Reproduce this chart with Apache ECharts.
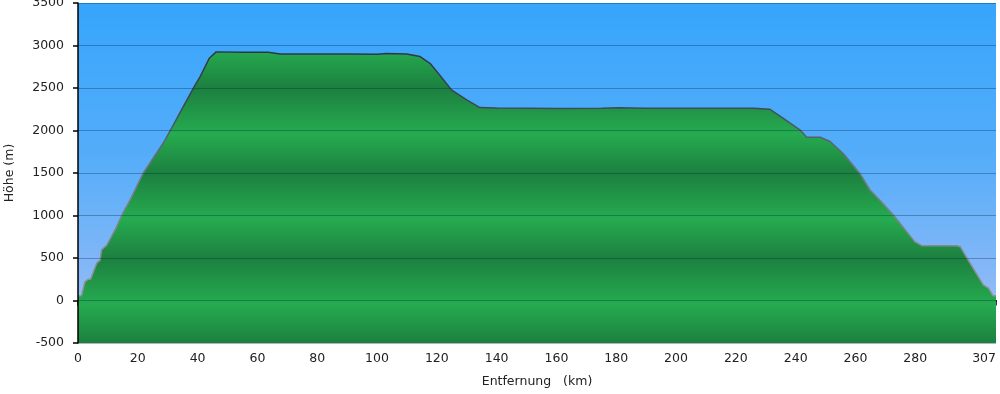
<!DOCTYPE html>
<html>
<head>
<meta charset="utf-8">
<script src="https://cdn.jsdelivr.net/npm/echarts@6/dist/echarts.min.js"></script>
<style>
html,body{margin:0;padding:0;background:#fff;}
#c{width:1000px;height:394px;}
</style>
</head>
<body>
<div id="c"></div>
<script>
// Distance along route (km)
const distanceKm = [0, 1.2, 2.3, 3.4, 4.2, 6.3, 7.4, 7.9, 9.6, 12.4, 15, 17.4, 21.8, 28.5, 31.9, 35.8, 39.1, 40.8, 43.9, 46.2,
  55, 63.6, 67.6, 90, 100, 103, 109.9, 114.4, 117.7, 121, 125, 130, 134.4, 140, 160, 175, 181, 190, 210, 226,
  231.4, 236, 241.5, 243.7, 248.2, 251.5, 255.9, 261.5, 264.9, 268.2, 272.7, 279.9, 282.2, 293.9, 295, 298.3,
  302.8, 304.5, 306, 307];
// Elevation (m)
const elevationM = [55, 60, 220, 250, 250, 440, 475, 595, 650, 830, 1030, 1180, 1500, 1850, 2065, 2320, 2530, 2630, 2850, 2925,
  2922, 2920, 2900, 2900, 2898, 2905, 2900, 2870, 2790, 2650, 2475, 2360, 2270, 2265, 2260, 2262, 2268, 2262, 2262, 2262,
  2250, 2140, 2005, 1920, 1920, 1870, 1730, 1495, 1300, 1180, 1005, 690, 645, 645, 633, 440,
  180, 145, 55, 55];
const xTickValues = [0, 20, 40, 60, 80, 100, 120, 140, 160, 180, 200, 220, 240, 260, 280, 307];
const yMin = -500, yMax = 3500, yStep = 500;

const seriesData = distanceKm.map((d, i) => [d, elevationM[i]]);

const G = echarts.graphic.LinearGradient;
const font = 'DejaVu Sans';
const TOP = 3, BOTTOM = 343;

const chart = echarts.init(document.getElementById('c'), null, {renderer: 'canvas'});
chart.setOption({
  animation: false,
  backgroundColor: '#ffffff',
  grid: {
    left: 78, right: 4, top: TOP, bottom: 394 - BOTTOM,
    outerBoundsMode: 'none',
    containLabel: false,
    show: true, borderWidth: 0,
    backgroundColor: new G(0, 0, 0, 1, [
      {offset: 0, color: '#36a5fc'},
      {offset: 0.45, color: '#55adf9'},
      {offset: 0.8, color: '#86b8f7'},
      {offset: 1, color: '#abc9f8'}
    ])
  },
  xAxis: {
    type: 'value', min: 0, max: 307,
    name: 'Entfernung   (km)', nameLocation: 'middle', nameGap: 32,
    nameTextStyle: {fontFamily: font, fontSize: 12.5, color: '#222'},
    axisLine: {show: true, lineStyle: {color: '#000', width: 2}},
    axisTick: {show: true, length: 5, lineStyle: {color: '#000', width: 1.5}, customValues: xTickValues},
    axisLabel: {fontFamily: font, fontSize: 12.5, color: '#222', margin: 9, customValues: xTickValues,
      alignMaxLabel: 'right', formatter: v => String(v)},
    splitLine: {show: false}
  },
  yAxis: {
    type: 'value', min: yMin, max: yMax, interval: yStep, z: 5,
    name: 'Höhe (m)', nameLocation: 'middle', nameGap: 62, nameRotate: 90,
    nameTextStyle: {fontFamily: font, fontSize: 12.5, color: '#222'},
    axisLine: {show: true, lineStyle: {color: '#000', width: 1.5}},
    axisTick: {show: true, length: 5, lineStyle: {color: '#000', width: 1.5}},
    axisLabel: {fontFamily: font, fontSize: 12.5, color: '#222', margin: 14, formatter: v => String(v)},
    splitLine: {show: true, lineStyle: {color: 'rgba(0,30,70,0.32)', width: 1}}
  },
  series: [{
    type: 'line',
    data: seriesData,
    symbol: 'none',
    smooth: false,
    z: 2,
    lineStyle: {
      width: 1.5,
      color: new G(0, TOP, 0, BOTTOM, [
        {offset: 0, color: '#1e2a38'},
        {offset: 0.3, color: '#3c4756'},
        {offset: 0.5, color: '#737b86'},
        {offset: 1, color: '#9c9c9c'}
      ], true)
    },
    areaStyle: {
      opacity: 1,
      origin: 'start',
      color: new G(0, TOP, 0, BOTTOM, [
        {offset: 0.00, color: '#1c803f'},
        {offset: 0.135, color: '#26ab50'},
        {offset: 0.25, color: '#1c803f'},
        {offset: 0.385, color: '#26ab50'},
        {offset: 0.50, color: '#1c803f'},
        {offset: 0.635, color: '#26ab50'},
        {offset: 0.75, color: '#1c803f'},
        {offset: 0.885, color: '#26ab50'},
        {offset: 1.00, color: '#1c803f'}
      ], true)
    }
  }]
});
</script>
</body>
</html>
